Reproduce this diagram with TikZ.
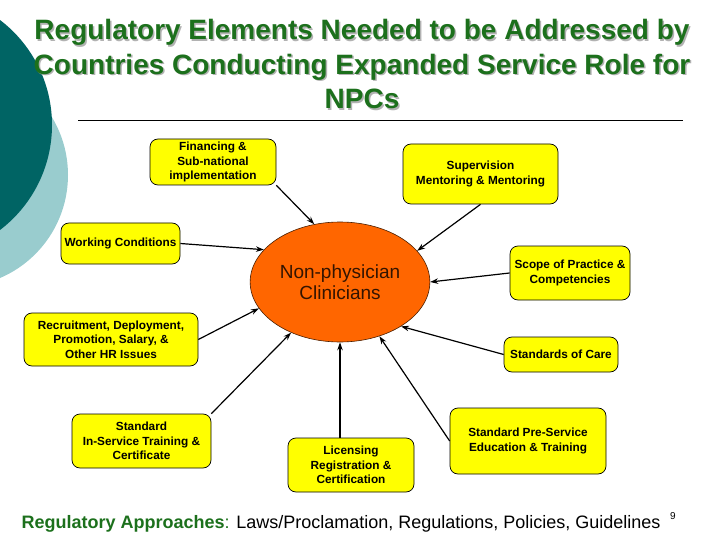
\documentclass[tikz,border=0pt]{standalone}
\usepackage{fontspec}
\setmainfont{Liberation Sans}
\usetikzlibrary{shapes.geometric,arrows.meta}

\definecolor{titlegreen}{RGB}{28,112,28}
\definecolor{darkteal}{RGB}{0,100,100}
\definecolor{lightteal}{RGB}{153,204,206}
\definecolor{boxyellow}{RGB}{255,255,0}
\definecolor{npcorange}{RGB}{255,102,0}

\begin{document}
\begin{tikzpicture}[x=1pt, y=-1pt]
    \tikzstyle{box}=[draw, fill=boxyellow, rounded corners=8pt, line width=0.7pt, align=center,
        inner sep=2pt, font=\bfseries\fontsize{11.8}{14.5}\selectfont]
    \tikzstyle{link}=[-{Stealth[length=8pt, width=5.5pt]}, line width=1.2pt]
    \useasboundingbox (0, 0) rectangle (720, 540);
    % background discs on the left
    \begin{scope}
    \clip (0, 0) rectangle (720, 540);
    \fill[lightteal] (-44, 175) circle (112);
    \fill[darkteal] (-80, 125) circle (132);
    \end{scope}
    % title
    \draw (363.5, 65.5) node[align=center, text=black!30, font=\bfseries\fontsize{28}{34.5}\selectfont] (titleshadow)
        {Regulatory Elements Needed to be Addressed by\\ Countries Conducting Expanded Service Role for\\ NPCs};
    \draw (362, 64) node[align=center, text=titlegreen, font=\bfseries\fontsize{28}{34.5}\selectfont] (title)
        {Regulatory Elements Needed to be Addressed by\\ Countries Conducting Expanded Service Role for\\ NPCs};
    \draw[line width=0.8pt] (78, 120) -- (683, 120);
    % centre
    \draw (340, 282) node[ellipse, draw=black!70!npcorange, fill=npcorange, line width=0.6pt,
        minimum width=164pt, minimum height=120pt, align=center, text=black!80!npcorange,
        font=\fontsize{19}{21.5}\selectfont] (npc) {Non-physician\\ Clinicians};
    % elements
    \draw (213, 162) node[box, minimum width=126pt, minimum height=46pt] (fin) {Financing \&\\ Sub-national\\ implementation};
    \draw (480.5, 174) node[box, minimum width=155pt, minimum height=60pt] (sup) {Supervision\\ Mentoring \& Mentoring};
    \draw (120.5, 243.5) node[box, minimum width=119pt, minimum height=41pt] (work) {Working Conditions};
    \draw (570, 273) node[box, minimum width=120pt, minimum height=54pt] (scope) {Scope of Practice \&\\ Competencies};
    \draw (561, 354.5) node[box, minimum width=114pt, minimum height=35pt] (care) {Standards of Care};
    \draw (528, 441) node[box, minimum width=156pt, minimum height=66pt] (pre) {Standard Pre-Service\\ Education \& Training};
    \draw (351, 465) node[box, minimum width=126pt, minimum height=54pt] (lic) {Licensing\\ Registration \&\\ Certification};
    \draw (141.5, 441) node[box, minimum width=139pt, minimum height=54pt] (ins) {Standard\\ In-Service Training \&\\ Certificate};
    \draw (111, 339.5) node[box, minimum width=174pt, minimum height=53pt] (rec) {Recruitment, Deployment,\\ Promotion, Salary, \&\\ Other HR Issues};
    % arrows into the centre
    \draw[link] (fin.south east) -- (npc.114);
    \draw[link] (work.east) -- (npc.157);
    \draw[link] (sup.south) -- (npc.22);
    \draw[link] (scope.west) -- (npc.0);
    \draw[link] (care.west) -- (npc.-36);
    \draw[link] (pre.west) -- (npc.-54);
    \draw[link] (lic.north -| npc.south) -- (npc.south);
    \draw[link] (ins.north east) -- (npc.-134);
    \draw[link] (rec.east) -- (npc.-162);
    % footer
    \draw (341, 524) node[font=\fontsize{18}{21}\selectfont] (approach)
        {\textcolor{titlegreen}{\bfseries Regulatory Approaches}\textcolor{titlegreen}{:} Laws/Proclamation, Regulations, Policies, Guidelines};
    \draw (673, 516) node[font=\fontsize{10}{12}\selectfont] (pagenum) {9};
\end{tikzpicture}
\end{document}
